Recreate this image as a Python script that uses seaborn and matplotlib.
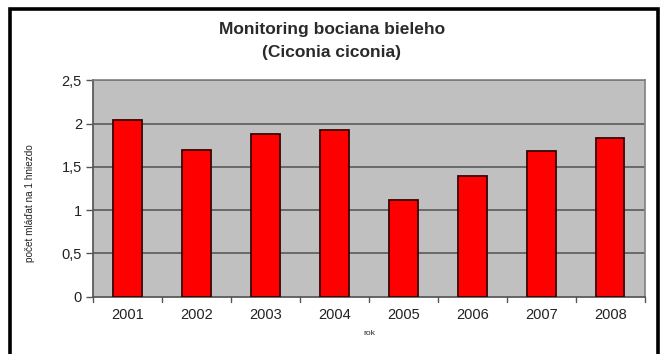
import matplotlib
matplotlib.use("Agg")
import matplotlib.pyplot as plt
from matplotlib.patches import Rectangle
import seaborn as sns
import pandas as pd

# Data
years = ["2001", "2002", "2003", "2004", "2005", "2006", "2007", "2008"]
chicks_per_nest = [2.04, 1.70, 1.88, 1.93, 1.12, 1.40, 1.68, 1.83]
y_ticks = [0, 0.5, 1, 1.5, 2, 2.5]
y_tick_labels = ["0", "0,5", "1", "1,5", "2", "2,5"]

df = pd.DataFrame({"rok": years, "value": chicks_per_nest})

sns.set_theme(style="white")
plt.rcParams["font.family"] = ["Liberation Sans", "DejaVu Sans"]

fig = plt.figure(figsize=(6.6, 3.54), dpi=100)
ax = fig.add_axes([0.141, 0.1624, 0.836, 0.6103])

sns.barplot(data=df, x="rok", y="value", color="#ff0000", width=0.41,
            edgecolor="#3a0000", linewidth=1.3, saturation=1, ax=ax, zorder=3)

ax.set_facecolor("#c0c0c0")
ax.set_ylim(0, 2.5)
ax.set_xlim(-0.5, len(years) - 0.5)
ax.set_yticks(y_ticks)
ax.set_yticklabels(y_tick_labels, fontsize=10.5, color="#222222")
ax.tick_params(axis="x", labelsize=10.5, labelcolor="#222222", length=0, pad=8)
ax.tick_params(axis="y", length=5, width=1, color="#555555", left=True, pad=3)

# horizontal gridlines
for t in y_ticks[1:]:
    ax.axhline(t, color="#5a5a5a", linewidth=1.2, zorder=1)

# tick marks between categories
for b in [i - 0.5 for i in range(len(years) + 1)]:
    ax.plot([b, b], [0, -0.06], color="#555555", linewidth=1, clip_on=False)

for side in ["top", "right"]:
    ax.spines[side].set_color("#808080")
    ax.spines[side].set_linewidth(1.2)
ax.spines["left"].set_color("#555555")
ax.spines["bottom"].set_color("#555555")

ax.set_ylabel("počet mláďat na 1 hniezdo", fontsize=7.2, color="#222222")
ax.yaxis.set_label_coords(-0.105, 0.43)
ax.set_xlabel("rok", fontsize=6, color="#222222", labelpad=6)

# Title
fig.text(0.503, 0.917, "Monitoring bociana bieleho", ha="center", va="center",
         fontsize=12.5, fontweight="bold", color="#2a2a2a")
fig.text(0.503, 0.851, "(Ciconia ciconia)", ha="center", va="center",
         fontsize=12.5, fontweight="bold", color="#2a2a2a")

# Frame around the chart (open at the bottom)
fig.patches.append(Rectangle((10.5 / 660, -0.05), (658 - 10.5) / 660, 1 - 8.5 / 354 + 0.05,
                             transform=fig.transFigure, fill=False,
                             edgecolor="black", linewidth=2.6))

fig.savefig("out.png", dpi=100)
